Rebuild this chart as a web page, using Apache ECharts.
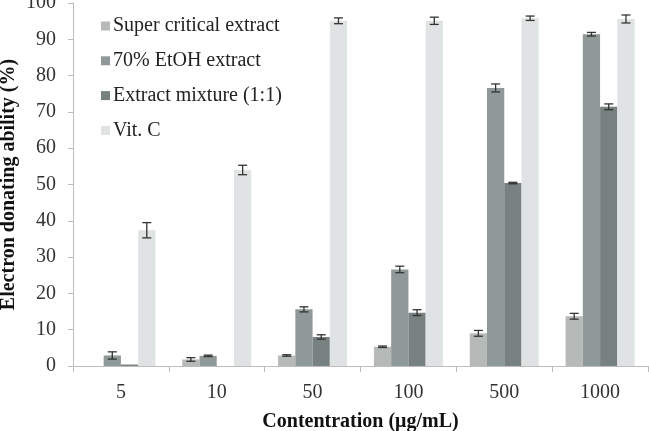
<!DOCTYPE html>
<html>
<head>
<meta charset="utf-8">
<script src="https://cdn.jsdelivr.net/npm/echarts@6/dist/echarts.min.js"></script>
<style>
  html, body { margin: 0; padding: 0; background: #fff; }
  #chart { width: 649px; height: 431px; }
</style>
</head>
<body>
<div id="chart"></div>
<script>
const categories = ['5', '10', '50', '100', '500', '1000']
const seriesNames = ['Super critical extract', '70% EtOH extract', 'Extract mixture (1:1)', 'Vit. C']
const superCritical = [0, 1.8, 2.9, 5.3, 9.0, 13.7]
const superCriticalErr = [0, 0.5, 0.2, 0.2, 0.8, 0.8]
const etoh70 = [2.9, 2.8, 15.6, 26.6, 76.6, 91.4]
const etoh70Err = [1.0, 0.2, 0.7, 0.9, 1.1, 0.5]
const mixture = [0.4, 0, 8.0, 14.7, 50.4, 71.4]
const mixtureErr = [0, 0, 0.6, 0.8, 0.2, 0.8]
const vitC = [37.4, 54.0, 95.1, 95.1, 95.8, 95.6]
const vitCErr = [2.1, 1.3, 0.8, 1.0, 0.6, 1.1]
const colors = ['#b5b9b8', '#8f9a98', '#77817f', '#dfe3e3']

const values = [superCritical, etoh70, mixture, vitC]
const errors = [superCriticalErr, etoh70Err, mixtureErr, vitCErr]
const catGap = 0.28
const font = 'Liberation Serif, Times New Roman, serif'

const myChart = echarts.init(document.getElementById('chart'))

const barSeries = values.map((v, i) => ({
  name: seriesNames[i],
  type: 'bar',
  data: v,
  barGap: '0%',
  barCategoryGap: '28%',
  itemStyle: { color: colors[i] },
  z: 2
}))

// error bars drawn on top of each bar
const errSeries = values.map((v, i) => ({
  type: 'custom',
  data: v.map((val, k) => [k, val, errors[i][k]]),
  z: 5,
  silent: true,
  renderItem: (params, api) => {
    const k = api.value(0)
    const val = api.value(1)
    const e = api.value(2)
    if (!e) return null
    const band = api.size([1, 0])[0]
    const bw = band * (1 - catGap) / 4
    const center = api.coord([k, val])
    const x = center[0] + (i - 1.5) * bw
    const hi = api.coord([k, val + e])[1]
    const lo = api.coord([k, val - e])[1]
    const cap = 4.5
    const style = { stroke: '#333', lineWidth: 1.3 }
    return {
      type: 'group',
      children: [
        { type: 'line', shape: { x1: x, y1: hi, x2: x, y2: lo }, style },
        { type: 'line', shape: { x1: x - cap, y1: hi, x2: x + cap, y2: hi }, style },
        { type: 'line', shape: { x1: x - cap, y1: lo, x2: x + cap, y2: lo }, style }
      ]
    }
  }
}))

const option = {
  animation: false,
  grid: {
    left: 73,
    right: 1,
    top: 3,
    bottom: 65,
    containLabel: false,
    outerBoundsMode: 'none'
  },
  legend: {
    data: seriesNames,
    orient: 'vertical',
    left: 96,
    top: 11,
    icon: 'rect',
    itemWidth: 9,
    itemHeight: 9,
    itemGap: 14.8,
    textStyle: {
      fontFamily: font,
      fontSize: 20,
      color: '#222',
      padding: [0, 0, 0, -2]
    }
  },
  xAxis: {
    type: 'category',
    data: categories,
    name: 'Contentration (μg/mL)',
    nameLocation: 'middle',
    nameGap: 46,
    nameMoveOverlap: false,
    nameTextStyle: {
      fontFamily: font,
      fontSize: 20,
      fontWeight: 'bold',
      color: '#111'
    },
    axisLine: { lineStyle: { color: '#bdbdbd' } },
    axisTick: { show: true, length: 6, lineStyle: { color: '#bdbdbd' } },
    axisLabel: {
      fontFamily: font,
      fontSize: 20,
      color: '#333',
      margin: 17
    }
  },
  yAxis: {
    type: 'value',
    min: 0,
    max: 100,
    interval: 10,
    name: 'Electron donating ability (%)',
    nameLocation: 'middle',
    nameGap: 54,
    nameMoveOverlap: false,
    nameTextStyle: {
      fontFamily: font,
      fontSize: 20,
      fontWeight: 'bold',
      color: '#111'
    },
    axisLine: { show: true, lineStyle: { color: '#bdbdbd' } },
    axisTick: { show: true, length: 5, lineStyle: { color: '#bdbdbd' } },
    splitLine: { show: false },
    axisLabel: {
      fontFamily: font,
      fontSize: 20,
      color: '#333',
      margin: 17
    }
  },
  series: barSeries.concat(errSeries)
}

option && myChart.setOption(option)
</script>
</body>
</html>
